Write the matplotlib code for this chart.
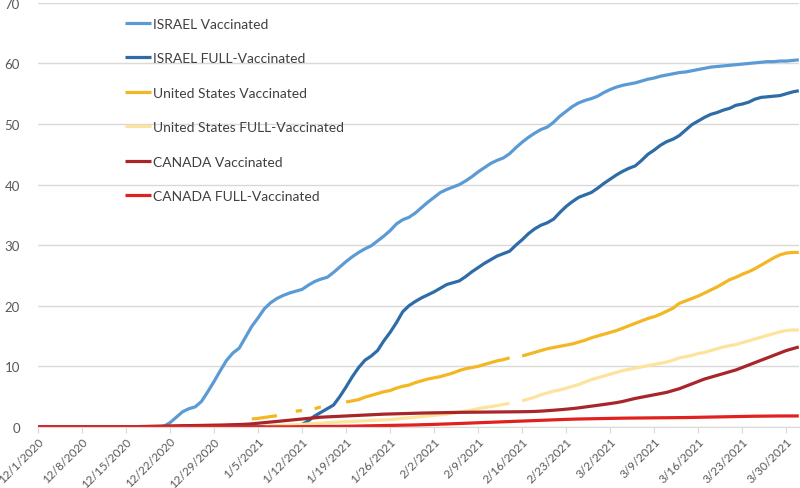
import numpy as np
import pandas as pd
import matplotlib
matplotlib.use("Agg")
import matplotlib.pyplot as plt

plt.rcParams['font.family'] = ['Lato', 'DejaVu Sans']
nan = np.nan

# daily dates, 12/1/2020 .. 4/1/2021
dates = pd.date_range("2020-12-01", "2021-04-01", freq="D")

tick_labels = ["12/1/2020", "12/8/2020", "12/15/2020", "12/22/2020", "12/29/2020",
               "1/5/2021", "1/12/2021", "1/19/2021", "1/26/2021", "2/2/2021",
               "2/9/2021", "2/16/2021", "2/23/2021", "3/2/2021", "3/9/2021",
               "3/16/2021", "3/23/2021", "3/30/2021"]

israel_vacc = [0] * 20 + [
    0.1, 0.7, 1.6, 2.5, 3.0, 3.3, 4.2, 5.8, 7.5, 9.3,
    11.0, 12.2, 13.0, 14.8, 16.6, 18.0, 19.5, 20.5, 21.2, 21.7,
    22.1, 22.4, 22.7, 23.4, 24.0, 24.4, 24.7, 25.5, 26.4, 27.3,
    28.1, 28.8, 29.4, 29.9, 30.7, 31.5, 32.4, 33.5, 34.2, 34.6,
    35.3, 36.2, 37.1, 37.9, 38.7, 39.2, 39.6, 40.0, 40.6, 41.3,
    42.1, 42.8, 43.5, 44.0, 44.4, 45.1, 46.1, 47.0, 47.8, 48.5,
    49.1, 49.5, 50.3, 51.3, 52.1, 52.9, 53.5, 53.9, 54.2, 54.6,
    55.2, 55.7, 56.1, 56.4, 56.6, 56.8, 57.1, 57.4, 57.6, 57.9,
    58.1, 58.3, 58.5, 58.6, 58.8, 59.0, 59.2, 59.4, 59.5, 59.6,
    59.7, 59.8, 59.9, 60.0, 60.1, 60.2, 60.3, 60.3, 60.4, 60.4,
    60.5, 60.6]

israel_full = [0] * 42 + [
    0.4, 1.0, 1.8, 2.4, 3.0, 3.6, 5.0, 6.6,
    8.3, 9.8, 11.0, 11.7, 12.6, 14.2, 15.6, 17.2, 19.0, 20.0,
    20.7, 21.3, 21.8, 22.3, 22.9, 23.5, 23.8, 24.1, 24.8, 25.6,
    26.3, 27.0, 27.6, 28.2, 28.6, 29.0, 30.0, 30.9, 31.9, 32.7,
    33.3, 33.7, 34.3, 35.4, 36.4, 37.2, 37.9, 38.3, 38.7, 39.4,
    40.2, 40.9, 41.6, 42.2, 42.7, 43.1, 44.0, 45.0, 45.7, 46.5,
    47.1, 47.5, 48.1, 49.0, 49.9, 50.5, 51.1, 51.6, 51.9, 52.3,
    52.6, 53.1, 53.3, 53.6, 54.1, 54.4, 54.5, 54.6, 54.7, 55.0,
    55.3, 55.5]

us_vacc = [nan] * 34 + [
    1.3, 1.4, 1.55, 1.7, 1.85, nan,
    nan, 2.6, 2.7, nan, 3.0, 3.3, nan, nan, nan, 4.1,
    4.3, 4.5, 4.9, 5.2, 5.5, 5.8, 6.0, 6.4, 6.7, 6.9,
    7.3, 7.6, 7.9, 8.1, 8.3, 8.6, 8.9, 9.3, 9.6, 9.8,
    10.0, 10.3, 10.6, 10.9, 11.1, 11.4, nan, 11.7, 12.0, 12.3,
    12.6, 12.9, 13.1, 13.3, 13.5, 13.7, 14.0, 14.3, 14.7, 15.0,
    15.3, 15.6, 15.9, 16.3, 16.7, 17.1, 17.5, 17.9, 18.2, 18.6,
    19.1, 19.6, 20.4, 20.8, 21.2, 21.6, 22.1, 22.6, 23.1, 23.7,
    24.3, 24.7, 25.2, 25.6, 26.1, 26.7, 27.3, 27.9, 28.4, 28.7,
    28.8, 28.8]

us_full = [nan] * 36 + [
    0.1, 0.15, 0.2, 0.25,
    0.3, 0.35, 0.4, 0.5, 0.55, 0.6, 0.7, 0.75, 0.8, 0.85,
    0.9, 0.95, 1.0, 1.05, 1.1, 1.15, 1.2, 1.3, 1.4, 1.5,
    1.6, 1.7, 1.8, 1.9, 2.0, 2.1, 2.25, 2.4, 2.6, 2.8,
    3.0, 3.2, 3.35, 3.5, 3.7, 3.9, nan, 4.3, 4.6, 4.9,
    5.3, 5.6, 5.9, 6.1, 6.4, 6.7, 7.0, 7.4, 7.8, 8.1,
    8.4, 8.7, 9.0, 9.3, 9.5, 9.7, 9.9, 10.1, 10.3, 10.5,
    10.7, 11.0, 11.4, 11.6, 11.8, 12.1, 12.3, 12.6, 12.9, 13.2,
    13.4, 13.6, 13.9, 14.2, 14.5, 14.8, 15.1, 15.4, 15.7, 15.9,
    16.0, 16.0]

canada_vacc = [0] * 14 + [
    0.02, 0.03, 0.05, 0.07, 0.1, 0.12,
    0.14, 0.16, 0.18, 0.2, 0.21, 0.22, 0.24, 0.26, 0.28, 0.3,
    0.33, 0.36, 0.39, 0.43, 0.5, 0.6, 0.7, 0.8, 0.9, 1.0,
    1.1, 1.2, 1.3, 1.4, 1.5, 1.6, 1.65, 1.7, 1.75, 1.8,
    1.85, 1.9, 1.95, 2.0, 2.05, 2.1, 2.13, 2.16, 2.19, 2.22,
    2.25, 2.28, 2.3, 2.32, 2.34, 2.36, 2.38, 2.4, 2.41, 2.42,
    2.43, 2.44, 2.45, 2.46, 2.47, 2.48, 2.49, 2.5, 2.52, 2.55,
    2.6, 2.67, 2.75, 2.83, 2.92, 3.02, 3.14, 3.28, 3.42, 3.56,
    3.7, 3.85, 4.0, 4.2, 4.45, 4.7, 4.9, 5.1, 5.3, 5.5,
    5.7, 6.0, 6.3, 6.7, 7.1, 7.5, 7.9, 8.2, 8.5, 8.8,
    9.1, 9.4, 9.8, 10.2, 10.6, 11.0, 11.4, 11.8, 12.2, 12.6,
    12.9, 13.2]

canada_full = [0] * 41 + [
    0.02, 0.03, 0.04, 0.05, 0.06, 0.07, 0.08, 0.09, 0.1,
    0.12, 0.14, 0.16, 0.18, 0.2, 0.22, 0.24, 0.26, 0.28, 0.3,
    0.32, 0.35, 0.38, 0.41, 0.45, 0.48, 0.52, 0.56, 0.6, 0.64,
    0.68, 0.72, 0.76, 0.8, 0.84, 0.88, 0.92, 0.96, 1.0, 1.04,
    1.08, 1.12, 1.16, 1.2, 1.24, 1.27, 1.3, 1.32, 1.34, 1.36,
    1.38, 1.4, 1.42, 1.44, 1.45, 1.46, 1.47, 1.48, 1.49, 1.5,
    1.51, 1.52, 1.53, 1.54, 1.56, 1.58, 1.6, 1.62, 1.64, 1.66,
    1.68, 1.7, 1.72, 1.74, 1.76, 1.77, 1.78, 1.79, 1.8, 1.8,
    1.8, 1.81]

series = [
    ("ISRAEL Vaccinated", israel_vacc, "#5b9bd5"),
    ("ISRAEL FULL-Vaccinated", israel_full, "#2e6ca8"),
    ("United States Vaccinated", us_vacc, "#f2b722"),
    ("United States FULL-Vaccinated", us_full, "#fde49c"),
    ("CANADA Vaccinated", canada_vacc, "#a8262a"),
    ("CANADA FULL-Vaccinated", canada_full, "#e2201f"),
]

fig = plt.figure(figsize=(8, 4.89), dpi=100)
ax = fig.add_axes([0.0475, 0.125, 0.951, 0.867])

# draw from the back: Israel first, Canada on top
for label, vals, col in series:
    ax.plot(dates, vals, color=col, lw=2.3, label=label, solid_capstyle="butt")

ax.set_ylim(0, 70)
ax.set_yticks(range(0, 71, 10))
ax.set_xlim(dates[0], dates[-1])
tick_pos = pd.to_datetime(tick_labels, format="%m/%d/%Y")
ax.set_xticks(tick_pos)
ax.set_xticklabels(tick_labels, rotation=45, ha="right", rotation_mode="anchor")

ax.grid(axis="y", color="#d9d9d9", lw=1)
ax.set_axisbelow(True)
for s in ["top", "right", "left"]:
    ax.spines[s].set_visible(False)
ax.spines["bottom"].set_color("#d9d9d9")
ax.tick_params(axis="y", length=0, pad=13, labelsize=9.5, labelcolor="#595959")
ax.tick_params(axis="x", length=4, color="#d9d9d9", pad=2, labelsize=8.5, labelcolor="#595959")

leg = ax.legend(loc="upper left", bbox_to_anchor=(0.098, 0.995), frameon=False,
                fontsize=10, labelspacing=1.62, handlelength=1.9, handletextpad=0.12)
for t in leg.get_texts():
    t.set_color("#404040")

fig.savefig("out.png", dpi=100)
